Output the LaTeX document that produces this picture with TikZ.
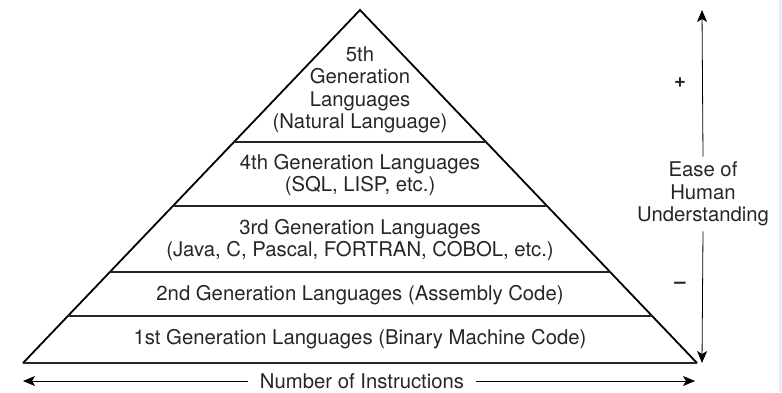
\documentclass[tikz,border=0pt]{standalone}
\usepackage{fontspec}
\setmainfont{TeX Gyre Heros}
\usetikzlibrary{calc,arrows.meta}
\begin{document}
\begin{tikzpicture}[x=1pt,y=-1pt,
  txt/.style={font=\fontsize{20.3}{22.5}\selectfont, align=center, inner sep=0pt, text=black!85},
  side/.style={line width=1.8pt, line join=miter},
  tier/.style={line width=2.8pt, draw=black!85},
  axis/.style={line width=0.8pt, -{Stealth[length=12pt,width=10pt,inset=3pt]}}]
\useasboundingbox (0,0) rectangle (782,392);
\fill[blue!8] (779,0) rectangle (782,392);
% pyramid corners
\coordinate (A) at (360,10);
\coordinate (BL) at (23,363);
\coordinate (BR) at (697,363);
% tier boundaries
\foreach \n/\f in {t4/0.374, t3/0.555, t2/0.742, t1/0.867}{
  \coordinate (\n L) at ($(A)!\f!(BL)$);
  \coordinate (\n R) at ($(A)!\f!(BR)$);
}
\draw[side] (BL) -- (A) -- (BR);
\draw[tier] (BL) -- (BR);
\foreach \n in {t4,t3,t2,t1}{ \draw[tier] (\n L) -- (\n R); }
% labels
\node[txt] (g5) at (360,90) {5th\\Generation\\Languages\\(Natural Language)};
\node[txt] (g4) at (360,175) {4th Generation Languages\\(SQL, LISP, etc.)};
\node[txt] (g3) at (360,240) {3rd Generation Languages\\(Java, C, Pascal, FORTRAN, COBOL, etc.)};
\node[txt] (g2) at (360,295) {2nd Generation Languages (Assembly Code)};
\node[txt] (g1) at (360,339) {1st Generation Languages (Binary Machine Code)};
% vertical axis
\coordinate (vtop) at (702,10);
\coordinate (vbot) at (702,363);
\node[txt, inner sep=5pt] (ease) at (703,194) {Ease of\\Human\\Understanding};
\draw[axis] (ease.north) -- (vtop);
\draw[axis] (ease.south) -- (vbot);
\node[txt, font=\fontsize{20.3}{22.5}\selectfont\bfseries] (plus) at (680,83) {+};
\node[txt, font=\fontsize{20.3}{22.5}\selectfont\bfseries] (minus) at (680,285) {–};
% horizontal axis
\coordinate (hl) at (23,381);
\coordinate (hr) at (695,381);
\node[txt, inner xsep=12pt] (num) at (362,381) {Number of Instructions};
\draw[axis] (num.west) -- (hl);
\draw[axis] (num.east) -- (hr);
\end{tikzpicture}
\end{document}
